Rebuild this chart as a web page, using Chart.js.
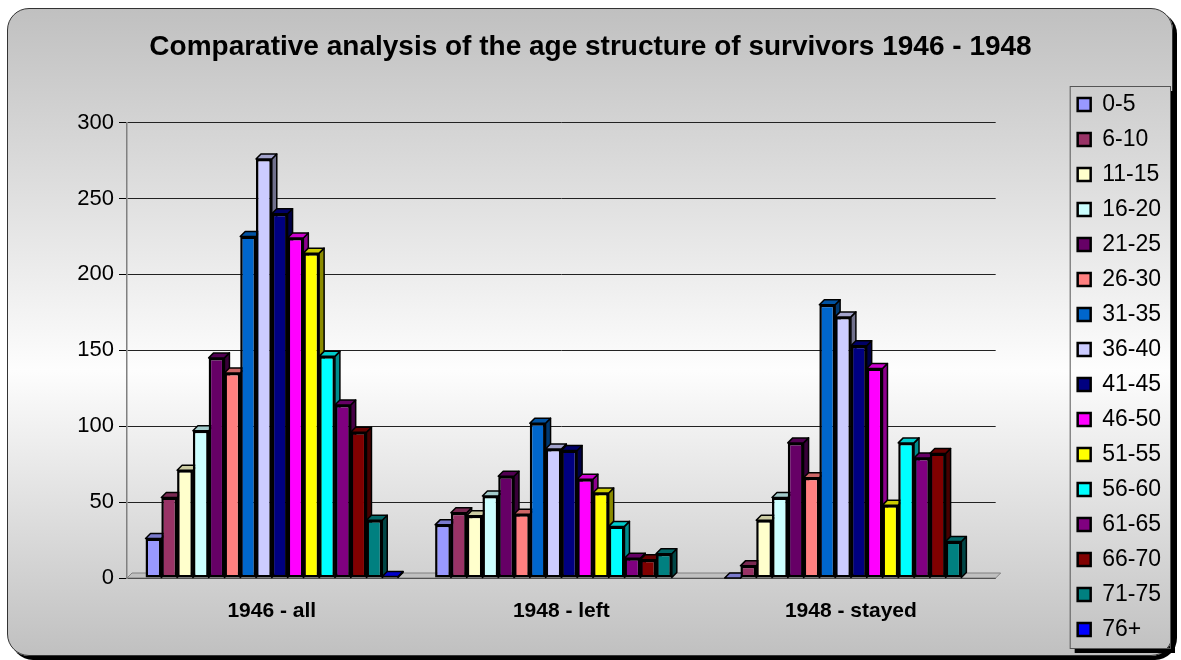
<!DOCTYPE html>
<html>
<head>
<meta charset="utf-8">
<script src="https://cdn.jsdelivr.net/npm/chart.js@4.4.0/dist/chart.umd.min.js"></script>
<style>
  html, body { margin: 0; padding: 0; background: #fff; }
  #frame {
    position: absolute; left: 7px; top: 8px; width: 1164px; height: 646px;
    border: 1px solid #333; border-radius: 22px;
    box-shadow: 4px 4px 0 #000;
    background: linear-gradient(to bottom, #c0c0c0 0%, #fdfdfd 56%, #c0c0c0 100%);
  }
  #wrap { position: absolute; left: 0; top: 0; width: 1181px; height: 660px; }
</style>
</head>
<body>
<div id="frame"></div>
<div id="wrap"><canvas id="myChart"></canvas></div>
<script>
const groups = ["1946 - all", "1948 - left", "1948 - stayed"];
const ageGroups = ["0-5", "6-10", "11-15", "16-20", "21-25", "26-30", "31-35", "36-40",
  "41-45", "46-50", "51-55", "56-60", "61-65", "66-70", "71-75", "76+"];
const colors = ["#9999FF", "#993366", "#FFFFCC", "#CCFFFF", "#660066", "#FF8080", "#0066CC", "#CCCCFF",
  "#000080", "#FF00FF", "#FFFF00", "#00FFFF", "#800080", "#800000", "#008080", "#0000FF"];

// one value per age group, for each column group
const all1946 = [26, 53, 71, 97, 145, 135, 225, 276, 240, 224, 214, 146, 114, 96, 38, 1];
const left1948 = [35, 43, 41, 54, 67, 42, 102, 85, 84, 65, 56, 34, 13, 12, 16, null];
const stayed1948 = [0, 8, 38, 53, 89, 66, 180, 172, 153, 138, 48, 89, 79, 82, 24, null];
const yTicks = [0, 50, 100, 150, 200, 250, 300];

const FONT = "'Liberation Sans', Arial, sans-serif";
const DX = 5, DY = -5;

function shade(hex, f) {
  const n = parseInt(hex.slice(1), 16);
  const r = Math.round(((n >> 16) & 255) * f);
  const g = Math.round(((n >> 8) & 255) * f);
  const b = Math.round((n & 255) * f);
  return "rgb(" + r + "," + g + "," + b + ")";
}

// fake 3d: floor, bar tops and right sides
const depthPlugin = {
  id: "depth",
  beforeDatasetsDraw(chart) {
    const ctx = chart.ctx;
    const area = chart.chartArea;
    const base = chart.scales.y.getPixelForValue(0);
    ctx.save();
    ctx.beginPath();
    ctx.moveTo(area.left, base);
    ctx.lineTo(area.right, base);
    ctx.lineTo(area.right + DX, base + DY);
    ctx.lineTo(area.left + DX, base + DY);
    ctx.closePath();
    ctx.fillStyle = "#c0c0c0";
    ctx.fill();
    ctx.strokeStyle = "#808080";
    ctx.lineWidth = 1;
    ctx.stroke();

    const bars = [];
    chart.data.datasets.forEach((ds, di) => {
      const meta = chart.getDatasetMeta(di);
      meta.data.forEach((el, i) => {
        if (ds.data[i] === null || ds.data[i] === undefined) return;
        const p = el.getProps(["x", "y", "base", "width"], true);
        bars.push({ p, color: ds.backgroundColor });
      });
    });
    bars.sort((a, b) => a.p.x - b.p.x);
    ctx.lineWidth = 1.5;
    ctx.strokeStyle = "#000";
    ctx.lineJoin = "round";
    bars.forEach(({ p, color }) => {
      const l = p.x - p.width / 2, r = p.x + p.width / 2;
      ctx.beginPath();
      ctx.moveTo(r, p.y);
      ctx.lineTo(r + DX, p.y + DY);
      ctx.lineTo(r + DX, p.base + DY);
      ctx.lineTo(r, p.base);
      ctx.closePath();
      ctx.fillStyle = shade(color, 0.55);
      ctx.fill();
      ctx.stroke();
      ctx.beginPath();
      ctx.moveTo(l, p.y);
      ctx.lineTo(l + DX, p.y + DY);
      ctx.lineTo(r + DX, p.y + DY);
      ctx.lineTo(r, p.y);
      ctx.closePath();
      ctx.fillStyle = shade(color, 0.8);
      ctx.fill();
      ctx.stroke();
    });
    ctx.restore();
  }
};

// frame with shadow around the legend items
const legendBoxPlugin = {
  id: "legendBox",
  beforeDraw(chart) {
    const hb = chart.legend && chart.legend.legendHitBoxes;
    if (!hb || !hb.length) return;
    const l = Math.min(...hb.map(h => h.left)) - 8;
    const t = Math.min(...hb.map(h => h.top)) - 7;
    const r = Math.max(...hb.map(h => h.left + h.width)) + 9;
    const b = Math.max(...hb.map(h => h.top + h.height)) + 7;
    const ctx = chart.ctx;
    ctx.save();
    ctx.fillStyle = "#000";
    ctx.fillRect(r, t + 5, 5, b - t);
    ctx.fillRect(l + 5, b, r - l, 5);
    ctx.strokeStyle = "#555";
    ctx.lineWidth = 1;
    ctx.strokeRect(l + 0.5, t + 0.5, r - l, b - t);
    ctx.restore();
  }
};

const datasets = ageGroups.map((age, i) => ({
  label: age,
  data: [all1946[i], left1948[i], stayed1948[i]],
  backgroundColor: colors[i],
  borderColor: "#000",
  borderWidth: 2.5,
  borderSkipped: false,
  categoryPercentage: 0.872,
  barPercentage: 1.0
}));

const ctx = document.getElementById("myChart").getContext("2d");
new Chart(ctx, {
  type: "bar",
  data: { labels: groups, datasets },
  plugins: [depthPlugin, legendBoxPlugin],
  options: {
    responsive: true,
    maintainAspectRatio: false,
    animation: false,
    layout: { padding: { left: 10, right: 10, top: 0, bottom: 7 } },
    plugins: {
      title: {
        display: true,
        text: "Comparative analysis of the age structure of survivors 1946 - 1948",
        color: "#000",
        font: { family: FONT, size: 28, weight: "bold" },
        padding: { top: 30, bottom: 59 }
      },
      legend: {
        position: "right",
        align: "end",
        labels: {
          color: "#000",
          font: { family: FONT, size: 23 },
          boxWidth: 13,
          boxHeight: 13,
          padding: 12
        }
      },
      tooltip: { enabled: false }
    },
    scales: {
      x: {
        grid: { display: false, drawTicks: false },
        border: { display: false },
        ticks: { color: "#000", font: { family: FONT, size: 21, weight: "bold" }, padding: 21 },
        afterFit(s) { s.height = 75; }
      },
      y: {
        min: 0,
        max: 300,
        afterBuildTicks(s) { s.ticks = yTicks.map(v => ({ value: v })); },
        grid: { color: "#222", lineWidth: 1, tickLength: 8, tickColor: "#000" },
        border: { color: "#808080", width: 1.5 },
        ticks: { color: "#000", font: { family: FONT, size: 22 }, padding: 5 },
        afterFit(s) { s.width = 117; }
      },
      y2: {
        position: "right",
        grid: { display: false, drawTicks: false },
        border: { display: false },
        ticks: { display: false },
        afterFit(s) { s.width = 70; }
      }
    }
  }
});
</script>
</body>
</html>
